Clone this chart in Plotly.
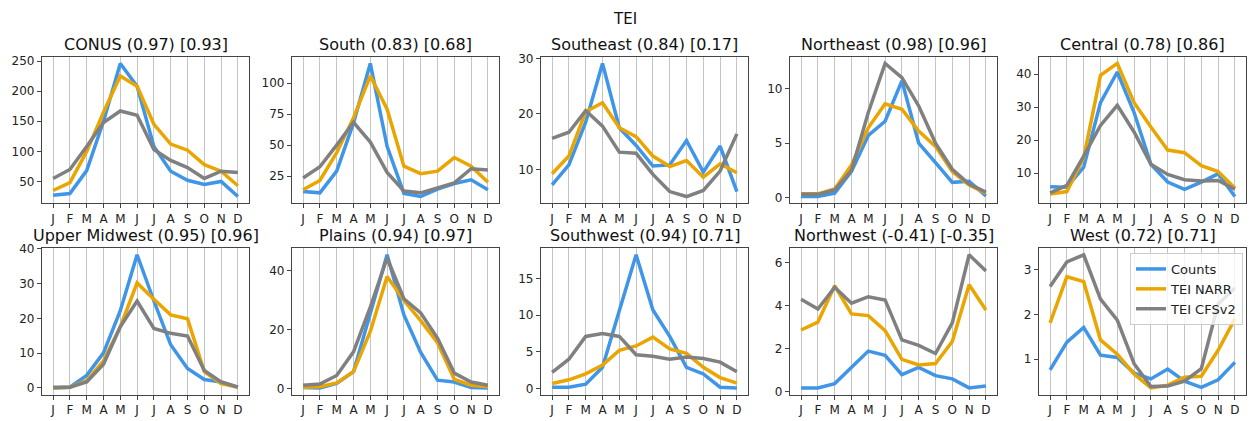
import plotly.graph_objects as go

months = ["J", "F", "M", "A", "M", "J", "J", "A", "S", "O", "N", "D"]
series_names = ["Counts", "TEI NARR", "TEI CFSv2"]
colors = ["#3f95e8", "#eba500", "#808080"]

regions = ["CONUS", "South", "Southeast", "Northeast", "Central",
           "Upper Midwest", "Plains", "Southwest", "Northwest", "West"]
corr_narr = ["0.97", "0.83", "0.84", "0.98", "0.78", "0.95", "0.94", "0.94", "-0.41", "0.72"]
corr_cfs = ["0.93", "0.68", "0.17", "0.96", "0.86", "0.96", "0.97", "0.71", "-0.35", "0.71"]

conus_counts = [27, 30, 68, 150, 246, 208, 108, 67, 52, 45, 50, 25]
conus_narr = [35, 48, 100, 165, 225, 208, 145, 112, 102, 78, 67, 43]
conus_cfs = [55, 70, 108, 148, 167, 160, 103, 85, 73, 55, 67, 65]

south_counts = [12.5, 11.5, 29, 68, 116, 49, 11, 8.5, 14.5, 19, 22, 14]
south_narr = [14, 21.5, 44, 72, 106, 79, 33, 27, 29, 40, 33, 20]
south_cfs = [23.5, 32.5, 50, 68.5, 52.5, 28, 13, 11.5, 15.5, 19.5, 31, 30]

southeast_counts = [7.2, 10.8, 18.5, 29.1, 17.5, 14.3, 10.6, 10.8, 15.2, 9.5, 14.2, 6.0]
southeast_narr = [9.2, 12.4, 20.4, 22.0, 17.5, 15.9, 12.4, 10.5, 11.6, 8.6, 11.0, 9.4]
southeast_cfs = [15.6, 16.7, 20.6, 17.8, 13.1, 12.9, 9.1, 6.0, 5.1, 6.2, 9.7, 16.4]

northeast_counts = [0.1, 0.1, 0.4, 2.4, 5.7, 7.0, 10.7, 5.0, 3.2, 1.4, 1.5, 0.15]
northeast_narr = [0.35, 0.35, 0.8, 3.0, 6.4, 8.6, 8.1, 6.1, 4.7, 2.4, 1.15, 0.4]
northeast_cfs = [0.3, 0.3, 0.7, 2.5, 7.8, 12.3, 11.0, 8.4, 5.0, 2.6, 1.25, 0.5]

central_counts = [5.9, 5.7, 11.8, 31.4, 40.7, 28.4, 12.7, 7.3, 5.1, 7.3, 9.8, 2.9]
central_narr = [3.7, 4.4, 14.7, 39.7, 43.3, 31.4, 24.0, 17.0, 16.2, 12.3, 10.5, 5.4]
central_cfs = [4.0, 6.3, 15.2, 24.5, 30.6, 22.5, 12.7, 9.6, 8.0, 7.6, 7.8, 5.1]

umw_counts = [0.0, 0.2, 3.6, 10.1, 22.2, 38.3, 25.0, 12.4, 5.6, 2.4, 1.7, 0.2]
umw_narr = [0.0, 0.2, 2.1, 7.8, 17.6, 30.2, 25.5, 21.0, 19.9, 4.7, 1.2, 0.2]
umw_cfs = [0.2, 0.2, 1.7, 6.8, 17.6, 25.0, 17.1, 15.7, 14.9, 5.0, 1.7, 0.2]

plains_counts = [0.3, 0.2, 1.7, 5.7, 25.4, 45.3, 24.9, 12.2, 2.8, 2.2, 0.3, 0.2]
plains_narr = [0.4, 0.6, 1.9, 5.7, 19.3, 37.9, 29.8, 23.0, 15.5, 3.1, 1.1, 0.6]
plains_cfs = [1.1, 1.5, 4.4, 12.4, 27.6, 44.2, 30.4, 25.6, 17.1, 5.2, 2.2, 1.1]

southwest_counts = [0.2, 0.2, 0.6, 2.9, 10.6, 18.2, 10.7, 7.1, 2.9, 2.0, 0.2, 0.1]
southwest_narr = [0.7, 1.2, 2.0, 3.2, 5.2, 5.8, 7.0, 5.4, 4.8, 2.9, 1.5, 0.75]
southwest_cfs = [2.2, 4.0, 7.1, 7.5, 7.1, 4.6, 4.4, 4.0, 4.3, 4.1, 3.6, 2.3]

northwest_counts = [0.18, 0.18, 0.38, 1.13, 1.89, 1.69, 0.8, 1.13, 0.75, 0.6, 0.18, 0.27]
northwest_narr = [2.87, 3.24, 4.93, 3.62, 3.54, 2.84, 1.51, 1.25, 1.31, 2.34, 4.98, 3.8]
northwest_cfs = [4.3, 3.85, 4.86, 4.12, 4.42, 4.27, 2.41, 2.16, 1.78, 3.2, 6.37, 5.61]

west_counts = [0.76, 1.38, 1.71, 1.09, 1.04, 0.69, 0.56, 0.78, 0.51, 0.37, 0.54, 0.93]
west_narr = [1.81, 2.84, 2.73, 1.43, 1.11, 0.67, 0.36, 0.42, 0.6, 0.62, 1.2, 1.9]
west_cfs = [2.62, 3.17, 3.33, 2.34, 1.87, 0.9, 0.39, 0.4, 0.51, 0.79, 2.23, 2.59]

region_data = [
    (conus_counts, conus_narr, conus_cfs),
    (south_counts, south_narr, south_cfs),
    (southeast_counts, southeast_narr, southeast_cfs),
    (northeast_counts, northeast_narr, northeast_cfs),
    (central_counts, central_narr, central_cfs),
    (umw_counts, umw_narr, umw_cfs),
    (plains_counts, plains_narr, plains_cfs),
    (southwest_counts, southwest_narr, southwest_cfs),
    (northwest_counts, northwest_narr, northwest_cfs),
    (west_counts, west_narr, west_cfs),
]

ytick_sets = [
    [50, 100, 150, 200, 250],
    [25, 50, 75, 100],
    [10, 20, 30],
    [0, 5, 10],
    [10, 20, 30, 40],
    [0, 10, 20, 30, 40],
    [0, 20, 40],
    [0, 5, 10, 15],
    [0, 2, 4, 6],
    [1, 2, 3],
]

W, H = 1249, 421
col_left = [42, 292, 541, 790, 1039]
col_w = 207
row_top = [52, 248]
row_h = 150

fig = go.Figure()
layout = dict(
    width=W, height=H,
    margin=dict(l=0, r=0, t=0, b=0),
    plot_bgcolor="white", paper_bgcolor="white",
    font=dict(family="DejaVu Sans", size=12, color="#222"),
    showlegend=True,
)
annotations = []
x_idx = list(range(12))

for i in range(10):
    r, c = divmod(i, 5)
    ax = "" if i == 0 else str(i + 1)
    x0 = col_left[c] / W
    x1 = (col_left[c] + col_w) / W
    y1 = 1 - row_top[r] / H
    y0 = 1 - (row_top[r] + row_h) / H
    vals = region_data[i]
    allv = [v for s in vals for v in s]
    lo, hi = min(allv), max(allv)
    pad = 0.05 * (hi - lo)
    layout["xaxis" + ax] = dict(
        domain=[x0, x1], anchor="y" + ax,
        range=[-0.66, 11.66],
        tickmode="array", tickvals=x_idx, ticktext=months,
        showgrid=True, gridcolor="#c4c4c4", gridwidth=1,
        zeroline=False, showline=True, linecolor="#444", linewidth=1.2,
        mirror=True, ticks="outside", ticklen=4, tickcolor="#444",
        tickfont=dict(size=12, color="#222"),
    )
    layout["yaxis" + ax] = dict(
        domain=[y0, y1], anchor="x" + ax,
        range=[lo - pad, hi + pad],
        tickmode="array", tickvals=ytick_sets[i],
        showgrid=False, zeroline=False, showline=True, linecolor="#444",
        linewidth=1.2, mirror=True, ticks="outside", ticklen=4, tickcolor="#444",
        tickfont=dict(size=12, color="#222"),
    )
    for k in range(3):
        fig.add_trace(go.Scatter(
            x=x_idx, y=vals[k], mode="lines",
            line=dict(color=colors[k], width=3.5),
            name=series_names[k],
            showlegend=(i == 9),
            xaxis="x" + ax, yaxis="y" + ax,
        ))
    annotations.append(dict(
        text=f"{regions[i]} ({corr_narr[i]}) [{corr_cfs[i]}]",
        xref="paper", yref="paper",
        x=(x0 + x1) / 2, y=y1 + 2 / H,
        xanchor="center", yanchor="bottom", showarrow=False, borderpad=0,
        font=dict(size=16, color="#111"),
    ))

annotations.append(dict(
    text="TEI", xref="paper", yref="paper",
    x=0.5, y=1 - 13 / H, xanchor="center", yanchor="middle",
    showarrow=False, font=dict(size=15, color="#111"),
))
layout["annotations"] = annotations
layout["legend"] = dict(
    x=1243 / W, y=1 - 253 / H, xanchor="right", yanchor="top",
    bgcolor="rgba(255,255,255,0.8)", bordercolor="#cccccc", borderwidth=1,
    font=dict(size=13, color="#222"), tracegroupgap=0,
    itemwidth=30,
)
fig.update_layout(**layout)
fig.write_html(
    "out.html",
    config={"displayModeBar": False},
    post_script="document.body.style.margin='0';document.body.style.overflow='hidden';",
)
